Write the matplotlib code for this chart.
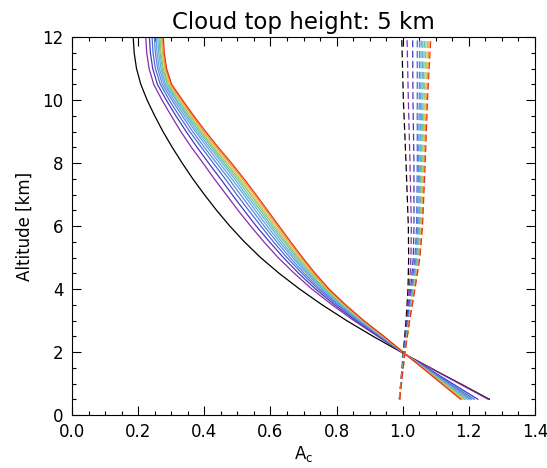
import matplotlib
matplotlib.use('Agg')
import matplotlib.pyplot as plt
from matplotlib.ticker import MultipleLocator

#altitude levels of the solid profiles [km]
alt_solid = [0.5, 1.0, 1.5, 1.9, 2.5, 3.0, 3.5, 4.0, 4.5, 5.0, 5.5, 6.0,
             6.5, 7.0, 7.5, 8.0, 8.5, 9.0, 9.5, 10.0, 10.5, 11.0, 11.5, 12.0]

#solid profiles, one list per curve (black first, red last)
solid_0 = [1.262, 1.173, 1.083, 1.012, 0.910, 0.830, 0.756, 0.688, 0.626, 0.570, 0.521, 0.477,
           0.437, 0.400, 0.365, 0.333, 0.303, 0.275, 0.250, 0.227, 0.208, 0.195, 0.188, 0.185]
solid_1 = [1.258, 1.170, 1.082, 1.012, 0.924, 0.852, 0.786, 0.725, 0.672, 0.623, 0.580, 0.540,
           0.502, 0.466, 0.430, 0.396, 0.361, 0.329, 0.300, 0.272, 0.247, 0.233, 0.226, 0.223]
solid_2 = [1.227, 1.150, 1.073, 1.012, 0.928, 0.858, 0.794, 0.736, 0.685, 0.639, 0.597, 0.557,
           0.520, 0.484, 0.449, 0.413, 0.378, 0.345, 0.314, 0.285, 0.258, 0.244, 0.237, 0.234]
solid_3 = [1.216, 1.143, 1.070, 1.012, 0.931, 0.863, 0.801, 0.744, 0.695, 0.650, 0.609, 0.571,
           0.534, 0.498, 0.463, 0.427, 0.391, 0.356, 0.324, 0.294, 0.267, 0.252, 0.245, 0.242]
solid_4 = [1.208, 1.138, 1.068, 1.012, 0.933, 0.866, 0.806, 0.750, 0.702, 0.659, 0.619, 0.581,
           0.545, 0.509, 0.474, 0.437, 0.400, 0.365, 0.333, 0.302, 0.273, 0.259, 0.252, 0.249]
solid_5 = [1.202, 1.134, 1.066, 1.012, 0.935, 0.870, 0.810, 0.756, 0.709, 0.667, 0.627, 0.590,
           0.554, 0.519, 0.483, 0.446, 0.409, 0.373, 0.340, 0.308, 0.279, 0.264, 0.257, 0.254]
solid_6 = [1.197, 1.131, 1.065, 1.012, 0.937, 0.872, 0.814, 0.760, 0.714, 0.673, 0.634, 0.598,
           0.562, 0.526, 0.491, 0.454, 0.416, 0.379, 0.346, 0.314, 0.283, 0.269, 0.262, 0.259]
solid_7 = [1.191, 1.127, 1.063, 1.012, 0.938, 0.874, 0.817, 0.764, 0.719, 0.679, 0.641, 0.604,
           0.569, 0.533, 0.498, 0.460, 0.422, 0.385, 0.351, 0.318, 0.288, 0.273, 0.266, 0.263]
solid_8 = [1.187, 1.125, 1.062, 1.012, 0.940, 0.877, 0.820, 0.768, 0.724, 0.684, 0.646, 0.610,
           0.575, 0.540, 0.504, 0.466, 0.427, 0.390, 0.356, 0.323, 0.291, 0.276, 0.269, 0.266]
solid_9 = [1.183, 1.122, 1.061, 1.012, 0.941, 0.878, 0.822, 0.771, 0.727, 0.688, 0.651, 0.616,
           0.580, 0.545, 0.509, 0.472, 0.432, 0.395, 0.360, 0.327, 0.294, 0.280, 0.273, 0.270]
solid_10 = [1.179, 1.119, 1.060, 1.012, 0.942, 0.880, 0.825, 0.774, 0.731, 0.693, 0.656, 0.621,
            0.586, 0.551, 0.515, 0.477, 0.437, 0.399, 0.364, 0.330, 0.298, 0.283, 0.276, 0.273]
solid_11 = [1.175, 1.117, 1.059, 1.012, 0.943, 0.882, 0.827, 0.777, 0.735, 0.697, 0.661, 0.626,
            0.591, 0.556, 0.520, 0.482, 0.442, 0.404, 0.368, 0.334, 0.301, 0.286, 0.279, 0.276]

#altitude levels of the dashed profiles [km]
alt_dash = [0.5, 1.0, 2.0, 3.0, 4.0, 5.0, 6.0, 8.0, 10.0, 12.0]

#dashed profiles, same colour order
dash_0 = [0.990, 0.994, 1.002, 1.010, 1.016, 1.018, 1.017, 1.010, 1.002, 0.997]
dash_1 = [0.990, 0.994, 1.003, 1.012, 1.020, 1.025, 1.026, 1.022, 1.017, 1.013]
dash_2 = [0.990, 0.995, 1.004, 1.014, 1.024, 1.032, 1.034, 1.034, 1.031, 1.030]
dash_3 = [0.991, 0.995, 1.005, 1.016, 1.027, 1.037, 1.042, 1.044, 1.044, 1.044]
dash_4 = [0.991, 0.995, 1.005, 1.017, 1.029, 1.040, 1.045, 1.048, 1.050, 1.051]
dash_5 = [0.991, 0.995, 1.006, 1.018, 1.030, 1.042, 1.048, 1.052, 1.054, 1.056]
dash_6 = [0.991, 0.996, 1.006, 1.018, 1.031, 1.044, 1.050, 1.054, 1.058, 1.061]
dash_7 = [0.991, 0.996, 1.006, 1.019, 1.032, 1.046, 1.052, 1.057, 1.061, 1.066]
dash_8 = [0.991, 0.996, 1.006, 1.020, 1.034, 1.048, 1.054, 1.060, 1.065, 1.071]
dash_9 = [0.991, 0.996, 1.007, 1.020, 1.035, 1.049, 1.056, 1.063, 1.068, 1.076]
dash_10 = [0.991, 0.996, 1.007, 1.021, 1.036, 1.051, 1.058, 1.065, 1.072, 1.080]
dash_11 = [0.991, 0.996, 1.007, 1.021, 1.037, 1.052, 1.060, 1.068, 1.075, 1.085]

colours = ['#000000', '#8b2aa8', '#3c3cc0', '#4a6ad8', '#5a86dc', '#64a0e0',
           '#5eb4d8', '#6ac0b0', '#8cc878', '#d8c848', '#f09a30', '#e8321e']

solids = [solid_0, solid_1, solid_2, solid_3, solid_4, solid_5,
          solid_6, solid_7, solid_8, solid_9, solid_10, solid_11]
dashes = [dash_0, dash_1, dash_2, dash_3, dash_4, dash_5,
          dash_6, dash_7, dash_8, dash_9, dash_10, dash_11]

fig = plt.figure(figsize=(5.47, 4.68), dpi=100)
ax = fig.add_axes([72/547, 1 - 415/468, 463/547, 378/468])

#solid and dashed profiles, drawn black first so red ends on top
for prof, col in zip(solids, colours):
	ax.plot(prof, alt_solid, color=col, lw=0.9)
for prof, col in zip(dashes, colours):
	ax.plot(prof, alt_dash, color=col, lw=0.9, dashes=(5.5, 2.8))

ax.set_xlim(0, 1.4)
ax.set_ylim(0, 12)
ax.xaxis.set_major_locator(MultipleLocator(0.2))
ax.xaxis.set_minor_locator(MultipleLocator(0.05))
ax.yaxis.set_major_locator(MultipleLocator(2))
ax.yaxis.set_minor_locator(MultipleLocator(0.5))
ax.xaxis.set_major_formatter(plt.FormatStrFormatter('%.1f'))
ax.tick_params(which='both', direction='in', top=True, right=True, width=0.8, labelsize=12)
ax.tick_params(which='major', length=6.5, pad=6)
ax.tick_params(which='minor', length=3.2)
for sp in ax.spines.values():
	sp.set_linewidth(0.8)

ax.set_title('Cloud top height: 5 km', fontsize=16.5, pad=6)
ax.set_xlabel(r'A$_\mathregular{c}$', fontsize=12, labelpad=2)
ax.set_ylabel('Altitude [km]', fontsize=12, labelpad=6)

fig.savefig('out.png', dpi=100)
